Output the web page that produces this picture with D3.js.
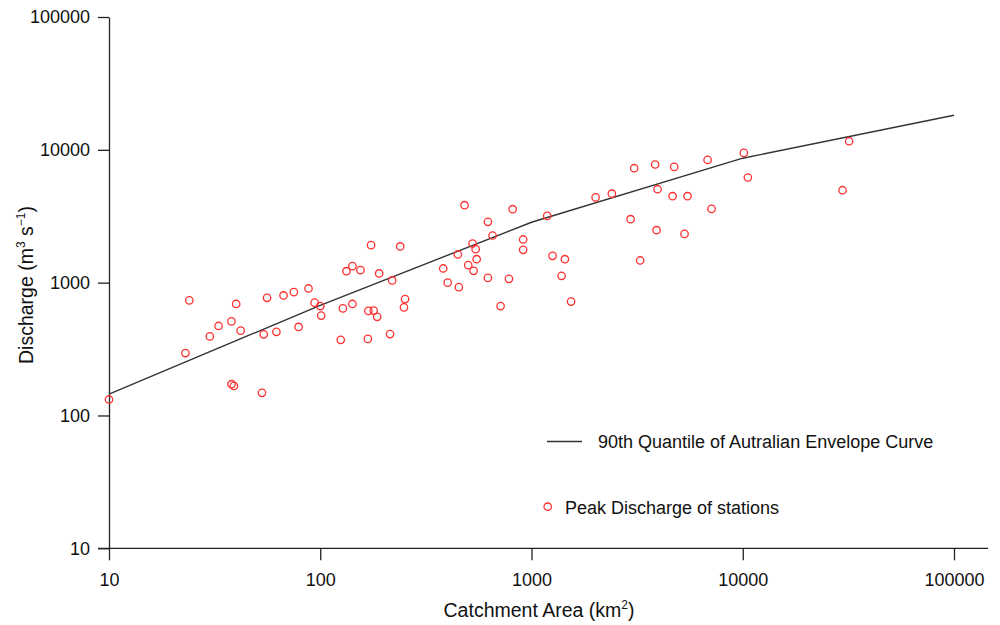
<!DOCTYPE html>
<html>
<head>
<meta charset="utf-8">
<script src="https://cdn.jsdelivr.net/npm/d3@7"></script>
<style>
  body { margin: 0; background: #fff; }
  text { font-family: "Liberation Sans", Arial, sans-serif; fill: #111; }
</style>
</head>
<body>
<div id="chart"></div>
<script>
// station peak discharges
const areas = [10, 23, 24, 30, 33, 38, 38, 39, 40, 42, 53, 54, 56, 62, 67, 75, 79, 88, 94, 100,
  101, 125, 128, 133, 142, 142, 155, 168, 169, 179, 186, 174, 190, 214, 219, 239, 249, 252, 382, 401,
  448, 453, 482, 502, 526, 532, 544, 550, 622, 622, 654, 714, 782, 814, 913, 913, 1187, 1258, 1388, 1439,
  1539, 2011, 2401, 2944, 3062, 3268, 3848, 3908, 3951, 4654, 4735, 5303, 5479, 6815, 7118, 10120, 10570, 29670, 31880];
const discharges = [132, 295, 735, 394, 472, 511, 172, 167, 691, 435, 148, 408, 769, 426, 801, 848, 464, 904, 707, 666,
  565, 371, 640, 1220, 1331, 691, 1242, 377, 613, 616, 553, 1915, 1173, 410, 1039, 1873, 651, 752, 1279, 1000,
  1630, 925, 3830, 1354, 1972, 1227, 1787, 1502, 2868, 1086, 2265, 666, 1068, 3573, 2114, 1766, 3181, 1591, 1125, 1502,
  720, 4384, 4674, 3005, 7271, 1469, 7751, 2483, 5051, 4476, 7435, 2329, 4476, 8395, 3592, 9477, 6189, 4966, 11610];

// envelope curve
const curveAreas = [10, 100, 1000, 10000, 100000];
const curveDischarges = [145, 675, 2850, 8650, 18200];

const xTicks = [10, 100, 1000, 10000, 100000];
const yTicks = [10, 100, 1000, 10000, 100000];

const legendLabels = ["90th Quantile of Autralian Envelope Curve", "Peak Discharge of stations"];

const width = 1000, height = 625;
const svg = d3.select("#chart")
  .append("svg")
  .attr("width", width)
  .attr("height", height);

const x = d3.scaleLog().domain([10, 100000]).range([109, 954]);
const y = d3.scaleLog().domain([10, 100000]).range([548.3, 17]);

// x axis
const gx = svg.append("g")
  .attr("transform", "translate(0,548.3)")
  .call(d3.axisBottom(x).tickValues(xTicks).tickFormat(d3.format("d")).tickSize(12).tickSizeOuter(0).tickPadding(13));
gx.select(".domain").remove();
gx.append("line")
  .attr("x1", 98).attr("x2", 988)
  .attr("stroke", "#222").attr("stroke-width", 1.3);
gx.selectAll(".tick line").attr("stroke", "#222").attr("stroke-width", 1.3);
gx.selectAll(".tick text").attr("font-size", 18).attr("fill", "#111")
  .style("font-family", "'Liberation Sans', Arial, sans-serif");

// y axis
const gy = svg.append("g")
  .attr("transform", "translate(109,0)")
  .call(d3.axisLeft(y).tickValues(yTicks).tickFormat(d3.format("d")).tickSize(11).tickSizeOuter(0).tickPadding(8));
gy.select(".domain").attr("stroke", "#222").attr("stroke-width", 1.3);
gy.selectAll(".tick line").attr("stroke", "#222").attr("stroke-width", 1.3);
gy.selectAll(".tick text").attr("font-size", 18).attr("fill", "#111")
  .style("font-family", "'Liberation Sans', Arial, sans-serif");

// axis titles
const xt = svg.append("text")
  .attr("x", 539).attr("y", 617)
  .attr("text-anchor", "middle")
  .attr("font-size", 19.5);
xt.append("tspan").text("Catchment Area (km");
xt.append("tspan").attr("dy", -8).attr("font-size", 12).text("2");
xt.append("tspan").attr("dy", 8).text(")");

const yt = svg.append("text")
  .attr("transform", "translate(33,285) rotate(-90)")
  .attr("text-anchor", "middle")
  .attr("font-size", 19.5);
yt.append("tspan").text("Discharge (m");
yt.append("tspan").attr("dy", -8).attr("font-size", 12).text("3");
yt.append("tspan").attr("dy", 8).text(" s");
yt.append("tspan").attr("dy", -8).attr("font-size", 12).text("\u22121");
yt.append("tspan").attr("dy", 8).text(")");

// envelope line
const line = d3.line()
  .x((d, i) => x(curveAreas[i]))
  .y(d => y(d));
svg.append("path")
  .datum(curveDischarges)
  .attr("d", line)
  .attr("fill", "none")
  .attr("stroke", "#333")
  .attr("stroke-width", 1.4);

// station points
svg.selectAll("circle.pt")
  .data(discharges)
  .enter()
  .append("circle")
  .attr("class", "pt")
  .attr("cx", (d, i) => x(areas[i]))
  .attr("cy", d => y(d))
  .attr("r", 3.7)
  .attr("fill", "none")
  .attr("stroke", "#ff3030")
  .attr("stroke-width", 1.3);

// legend
svg.append("line")
  .attr("x1", 547).attr("x2", 582).attr("y1", 441.5).attr("y2", 441.5)
  .attr("stroke", "#333").attr("stroke-width", 1.4);
svg.append("text")
  .attr("x", 598).attr("y", 441.5).attr("dy", "0.35em")
  .attr("font-size", 18)
  .text(legendLabels[0]);
svg.append("circle")
  .attr("cx", 547.7).attr("cy", 506.7).attr("r", 3.7)
  .attr("fill", "none").attr("stroke", "#ff3030").attr("stroke-width", 1.3);
svg.append("text")
  .attr("x", 565).attr("y", 508).attr("dy", "0.35em")
  .attr("font-size", 18)
  .text(legendLabels[1]);
</script>
</body>
</html>
